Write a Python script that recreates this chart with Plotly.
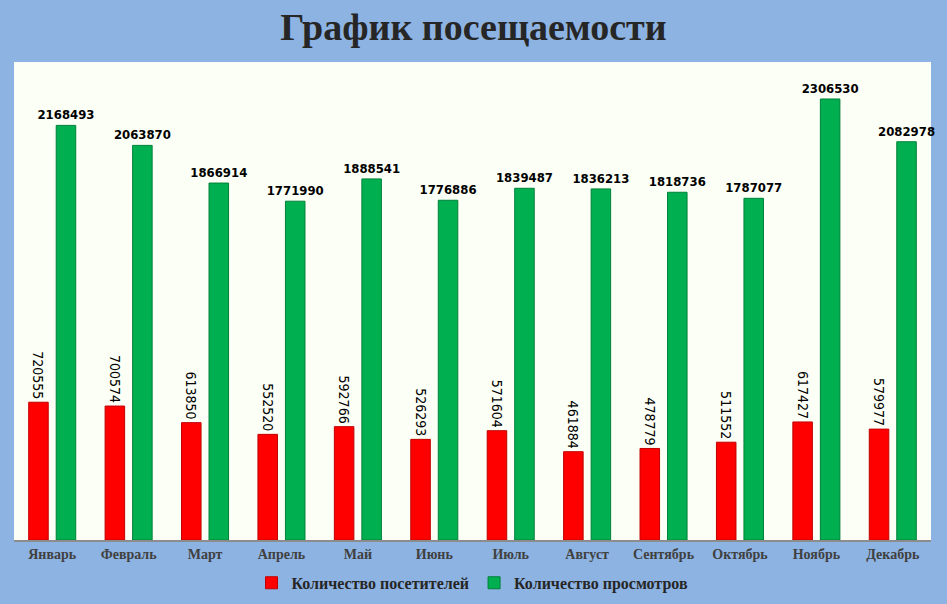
import plotly.graph_objects as go

months = ["Январь", "Февраль", "Март", "Апрель", "Май", "Июнь",
          "Июль", "Август", "Сентябрь", "Октябрь", "Ноябрь", "Декабрь"]
visitors = [720555, 700574, 613850, 552520, 592766, 526293,
            571604, 461884, 478779, 511552, 617427, 579977]
views = [2168493, 2063870, 1866914, 1771990, 1888541, 1776886,
         1839487, 1836213, 1818736, 1787077, 2306530, 2082978]

narrow = "Liberation Sans Narrow, DejaVu Sans Condensed, Arial Narrow, sans-serif"
serif = "Liberation Serif, DejaVu Serif, Times New Roman, serif"

fig = go.Figure()

# red bars, labels turned on their side
fig.add_trace(go.Bar(
    x=months, y=visitors, name="Количество посетителей",
    marker=dict(color="#FF0000", line=dict(color="#C00000", width=1)),
    text=[str(v) for v in visitors],
    textposition="outside", textangle=90, cliponaxis=False, constraintext="none",
    textfont=dict(family=narrow, size=14, color="black"),
))

# green bars, labels flat
fig.add_trace(go.Bar(
    x=months, y=views, name="Количество просмотров",
    marker=dict(color="#00B050", line=dict(color="#00803A", width=1)),
    text=[f"<b>{v}</b>" for v in views],
    textposition="outside", textangle=0, cliponaxis=False, constraintext="none",
    textfont=dict(family=narrow, size=13, color="black"),
))

fig.update_layout(
    width=947, height=604,
    paper_bgcolor="#8DB3E2",
    plot_bgcolor="#FCFFF5",
    margin=dict(l=14, r=16, t=62, b=64, autoexpand=False),
    title=dict(text="<b>График посещаемости</b>", x=0.5, y=0.955, xanchor="center",
               yanchor="middle",
               font=dict(family=serif, size=38, color="#262626")),
    barmode="group", bargap=0.28, bargroupgap=0.29,
    showlegend=True,
    legend=dict(orientation="h", x=0.5, xanchor="center",
                yref="container", y=0.035, yanchor="middle",
                font=dict(family=serif, size=16, color="#262626", weight="bold"),
                bgcolor="rgba(0,0,0,0)"),
)
fig.update_xaxes(showline=True, linecolor="#8C8C8C", linewidth=2, automargin=False,
                 tickfont=dict(family=serif, size=14, color="#404040", weight="bold"),
                 ticks="", showgrid=False)
fig.update_yaxes(range=[0, 2500000], visible=False, showgrid=False)

fig.write_html("out.html", config={"displayModeBar": False},
               post_script="document.body.style.margin='0';")
